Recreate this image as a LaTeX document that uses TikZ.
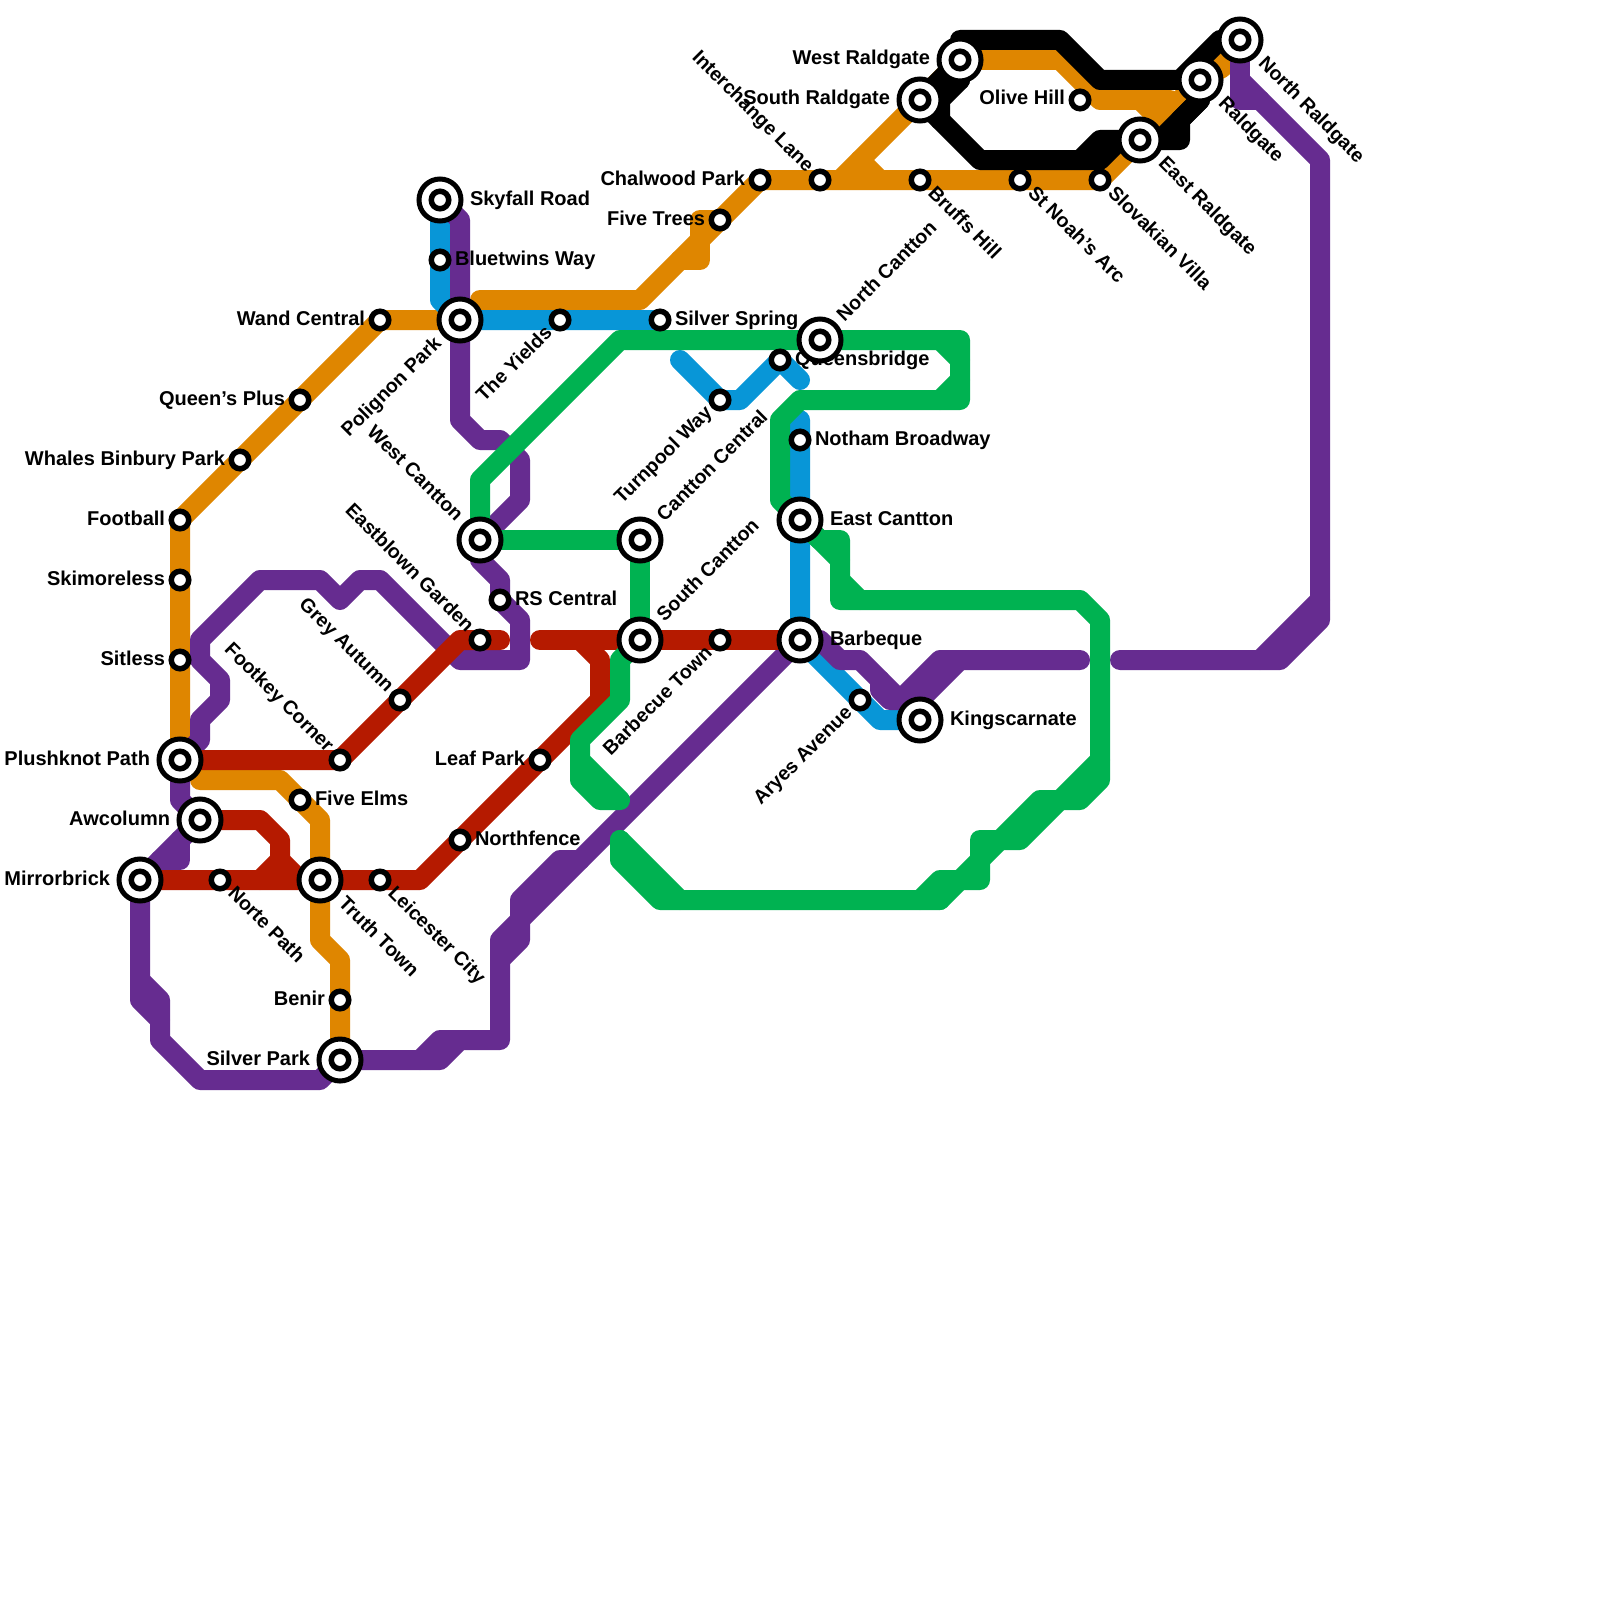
\documentclass[tikz,border=0pt]{standalone}
\usepackage{fontspec}
\setmainfont{Liberation Sans}
\definecolor{lorange}{HTML}{DF8600}
\definecolor{lblue}{HTML}{0896D7}
\definecolor{lpurple}{HTML}{662C90}
\definecolor{lred}{HTML}{B51A00}
\definecolor{lgreen}{HTML}{00B251}
\tikzset{
  metro/.style={line width=20pt,line cap=round,line join=round},
  orangeline/.style={metro,draw=lorange},
  blueline/.style={metro,draw=lblue},
  purpleline/.style={metro,draw=lpurple},
  redline/.style={metro,draw=lred},
  greenline/.style={metro,draw=lgreen},
  blackline/.style={metro,draw=black},
  ring/.style={circle,draw=black,line width=5pt,fill=white,inner sep=0pt,outer sep=0pt,minimum size=42pt},
  dot/.style={circle,draw=black,line width=5.5pt,fill=white,inner sep=0pt,outer sep=0pt,minimum size=17.5pt},
  lbl/.style={inner sep=0pt,outer sep=0pt,font=\fontsize{20}{24}\selectfont\bfseries,text=black},
  dlbl/.style={inner sep=0pt,outer sep=0pt,font=\fontsize{19.6}{24}\selectfont\bfseries,text=black},
  E/.style={lbl,anchor=base west,xshift=15pt,yshift=-5pt},
  EL/.style={lbl,anchor=base west,xshift=30pt,yshift=-5pt},
  W/.style={lbl,anchor=base east,xshift=-15pt,yshift=-5pt},
  WL/.style={lbl,anchor=base east,xshift=-30pt,yshift=-5pt},
  SE/.style={dlbl,anchor=base west,xshift=7pt,yshift=-14pt,rotate=-45},
  SEL/.style={dlbl,anchor=base west,xshift=17.5pt,yshift=-24.5pt,rotate=-45},
  NEL/.style={dlbl,anchor=base west,xshift=24.7pt,yshift=17.7pt,rotate=45},
  SW/.style={dlbl,anchor=base east,xshift=-7pt,yshift=-14pt,rotate=45},
  SWL/.style={dlbl,anchor=base east,xshift=-17.7pt,yshift=-24.7pt,rotate=45},
  NW/.style={dlbl,anchor=base east,xshift=-14pt,yshift=7pt,rotate=-45},
  NWL/.style={dlbl,anchor=base east,xshift=-24.7pt,yshift=17.7pt,rotate=-45},
}
\newcommand\BigSt[3]{\node[#2] (#1-l) at (#1) {#3};}
\begin{document}
\begin{tikzpicture}[x=1pt,y=-1pt]
\useasboundingbox (0,0) rectangle (1600,1600);
\fill[white] (0,0) rectangle (1600,1600);
% station positions
\foreach \n/\x/\y in {skyfall/440/200,bluetwins/440/260,polignon/460/320,wand/380/320,queens/300/400,whales/240/460,football/180/520,skimore/180/580,sitless/180/660,plushknot/180/760,awcolumn/200/820,mirror/140/880,norte/220/880,truth/320/880,leicester/380/880,fiveelms/300/800,footkey/340/760,grey/400/700,eastblown/480/640,rscentral/500/600,westc/480/540,canttonc/640/540,southc/640/640,barbecue/720/640,barbeque/800/640,eastc/800/520,notham/800/440,queensb/780/360,northc/820/340,turnpool/720/400,silvers/660/320,yields/560/320,leaf/540/760,northf/460/840,benir/340/1000,silverp/340/1060,aryes/860/700,kings/920/720,fivet/720/220,chalwood/760/180,interch/820/180,bruffs/920/180,stnoah/1020/180,slovak/1100/180,eastr/1140/140,raldgate/1200/80,northr/1240/40,olive/1080/100,westr/960/60,southr/920/100}
  {\coordinate (\n) at (\x,\y);}
% orange
\draw[orangeline] (plushknot) -- (football) -- (wand) -- (polignon);
\draw[orangeline] (480,300) -- (640,300) -- (chalwood) -- (slovak) -- (raldgate) -- (1220,62);
\draw[orangeline] (raldgate) -- (1222,68);
\draw[orangeline] (fivet) -- (700,220) -- (700,260) -- (680,260);
\draw[orangeline] (840,180) -- (westr) -- (1060,60) -- (1100,100) -- (1170,100);
\draw[orangeline] (1140,100) -- (1160,120);
\draw[orangeline] (860,160) -- (880,180);
\draw[orangeline] (200,780) -- (280,780) -- (320,820) -- (320,940) -- (340,960) -- (silverp);
% blue
\draw[blueline] (skyfall) -- (440,300) -- (polignon) -- (silvers);
\draw[blueline] (680,360) -- (turnpool) -- (740,400) -- (queensb) -- (800,380);
\draw[blueline] (800,420) -- (barbeque) -- (880,720) -- (kings);
% purple
\draw[purpleline] (skyfall) -- (460,220) -- (460,420) -- (480,440) -- (500,440) -- (520,460) -- (520,500) -- (westc) -- (480,560) -- (500,580) -- (500,600) -- (520,620) -- (520,660) -- (460,660) -- (380,580) -- (360,580) -- (340,600) -- (320,580) -- (260,580) -- (200,640) -- (200,660) -- (220,680) -- (220,700) -- (200,720) -- (200,740) -- (plushknot) -- (180,800) -- (awcolumn) -- (mirror) -- (140,1000) -- (160,1020) -- (160,1040) -- (200,1080) -- (320,1080) -- (silverp) -- (440,1060) -- (460,1040) -- (500,1040) -- (500,940) -- (barbeque) -- (820,640) -- (840,660) -- (860,660) -- (900,700) -- (940,660) -- (1080,660);
\draw[purpleline] (180,840) -- (180,860) -- (160,860);
\draw[purpleline] (140,980) -- (160,1000) -- (160,1020);
\draw[purpleline] (420,1060) -- (440,1040) -- (460,1040);
\draw[purpleline] (500,960) -- (520,940) -- (520,900) -- (560,860) -- (580,860);
\draw[purpleline] (880,680) -- (880,690) -- (890,700) -- (920,700) -- (960,660);
\draw[purpleline] (1120,660) -- (1280,660) -- (1320,620) -- (1320,160) -- (1240,80);
\draw[purpleline] (1260,660) -- (1320,600);
\draw[purpleline] (northr) -- (1240,100) -- (1260,100);
% red
\draw[redline] (plushknot) -- (footkey) -- (460,640) -- (500,640);
\draw[redline] (540,640) -- (barbeque);
\draw[redline] (580,640) -- (600,660) -- (600,700) -- (420,880) -- (mirror);
\draw[redline] (awcolumn) -- (260,820) -- (280,840) -- (280,860) -- (260,880);
\draw[redline] (280,860) -- (300,880);
% green
\draw[greenline] (westc) -- (480,480) -- (620,340) -- (960,340) -- (960,400) -- (800,400) -- (780,420) -- (780,500) -- (840,560);
\draw[greenline] (940,340) -- (960,360);
\draw[greenline] (960,380) -- (940,400);
\draw[greenline] (eastc) -- (820,540) -- (840,540) -- (840,600) -- (1080,600) -- (1100,620) -- (1100,780) -- (1080,800) -- (1040,800) -- (940,900);
\draw[greenline] (840,580) -- (860,600);
\draw[greenline] (westc) -- (canttonc) -- (southc);
\draw[greenline] (southc) -- (620,660) -- (620,700) -- (580,740) -- (580,780) -- (600,800) -- (620,800) -- (580,760);
\draw[greenline] (620,840) -- (620,860) -- (660,900) -- (940,900);
\draw[greenline] (620,840) -- (680,900);
\draw[greenline] (920,900) -- (940,880) -- (980,880) -- (980,840) -- (1020,840) -- (1100,760);
% black
\draw[blackline] (960,80) -- (960,40) -- (1060,40) -- (1100,80) -- (1180,80) -- (1220,40) -- (northr);
\draw[blackline] (southr) -- (980,160) -- (1100,160) -- (1120,140) -- (1180,140) -- (1180,120) -- (1200,100) -- (raldgate);
\draw[blackline] (1160,140) -- (1200,100);
\draw[blackline] (1080,160) -- (1100,140) -- (1120,140);
\draw[blackline] (southr) -- (960,60);
\draw[blackline] (960,80) -- (940,100) -- (940,120);
% labels
\BigSt{skyfall}{EL}{Skyfall Road}
\BigSt{bluetwins}{E}{Bluetwins Way}
\BigSt{polignon}{SWL}{Polignon Park}
\BigSt{wand}{W}{Wand Central}
\BigSt{queens}{W}{Queen’s Plus}
\BigSt{whales}{W}{Whales Binbury Park}
\BigSt{football}{W}{Football}
\BigSt{skimore}{W}{Skimoreless}
\BigSt{sitless}{W}{Sitless}
\BigSt{plushknot}{WL}{Plushknot Path}
\BigSt{awcolumn}{WL}{Awcolumn}
\BigSt{mirror}{WL}{Mirrorbrick}
\BigSt{norte}{SE}{Norte Path}
\BigSt{truth}{SEL}{Truth Town}
\BigSt{leicester}{SE}{Leicester City}
\BigSt{fiveelms}{E}{Five Elms}
\BigSt{footkey}{NW}{Footkey Corner}
\BigSt{grey}{NW}{Grey Autumn}
\BigSt{eastblown}{NW}{Eastblown Garden}
\BigSt{rscentral}{E}{RS Central}
\BigSt{westc}{NWL}{West Cantton}
\BigSt{canttonc}{NEL}{Cantton Central}
\BigSt{southc}{NEL}{South Cantton}
\BigSt{barbecue}{SW}{Barbecue Town}
\BigSt{barbeque}{EL}{Barbeque}
\BigSt{eastc}{EL}{East Cantton}
\BigSt{notham}{E}{Notham Broadway}
\BigSt{queensb}{E}{Queensbridge}
\BigSt{northc}{NEL}{North Cantton}
\BigSt{turnpool}{SW}{Turnpool Way}
\BigSt{silvers}{E}{Silver Spring}
\BigSt{yields}{SW}{The Yields}
\BigSt{leaf}{W}{Leaf Park}
\BigSt{northf}{E}{Northfence}
\BigSt{benir}{W}{Benir}
\BigSt{silverp}{WL}{Silver Park}
\BigSt{aryes}{SW}{Aryes Avenue}
\BigSt{kings}{EL}{Kingscarnate}
\BigSt{fivet}{W}{Five Trees}
\BigSt{chalwood}{W}{Chalwood Park}
\BigSt{interch}{NW}{Interchange Lane}
\BigSt{bruffs}{SE}{Bruffs Hill}
\BigSt{stnoah}{SE}{St Noah’s Arc}
\BigSt{slovak}{SE}{Slovakian Villa}
\BigSt{eastr}{SEL}{East Raldgate}
\BigSt{raldgate}{SEL}{Raldgate}
\BigSt{northr}{SEL}{North Raldgate}
\BigSt{olive}{W}{Olive Hill}
\BigSt{westr}{WL}{West Raldgate}
\BigSt{southr}{WL}{South Raldgate}
% stations
\foreach \n in {skyfall,polignon,plushknot,awcolumn,mirror,truth,westc,canttonc,southc,barbeque,eastc,northc,silverp,kings,eastr,raldgate,northr,westr,southr}
  {\node[ring] (\n-o) at (\n) {};}
\foreach \n in {skyfall,bluetwins,polignon,wand,queens,whales,football,skimore,sitless,plushknot,awcolumn,mirror,norte,truth,leicester,fiveelms,footkey,grey,eastblown,rscentral,westc,canttonc,southc,barbecue,barbeque,eastc,notham,queensb,northc,turnpool,silvers,yields,leaf,northf,benir,silverp,aryes,kings,fivet,chalwood,interch,bruffs,stnoah,slovak,eastr,raldgate,northr,olive,westr,southr}
  {\node[dot] (\n-d) at (\n) {};}
\end{tikzpicture}
\end{document}
